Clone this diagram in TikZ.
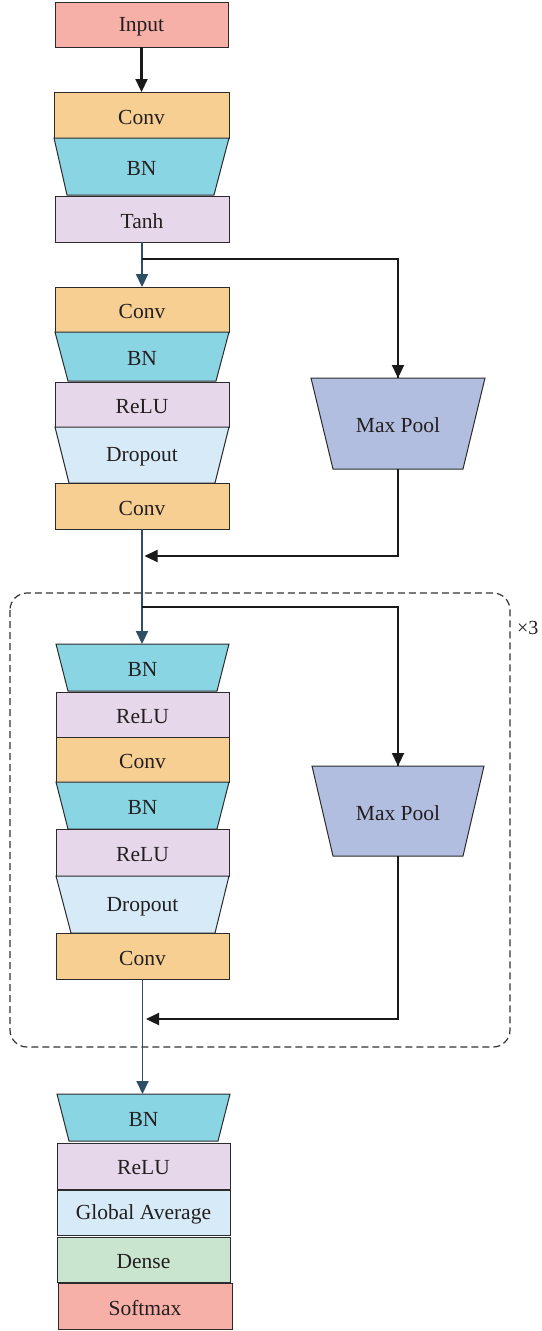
\documentclass[tikz,border=0pt]{standalone}
\usepackage{fontspec}
\setmainfont{Liberation Serif}
\usetikzlibrary{arrows.meta,calc}
\definecolor{cInput}{HTML}{F7B0A8}
\definecolor{cConv}{HTML}{F7CF93}
\definecolor{cBN}{HTML}{8AD5E3}
\definecolor{cAct}{HTML}{E6D8EA}
\definecolor{cDrop}{HTML}{D6EAF7}
\definecolor{cDense}{HTML}{C9E4CF}
\definecolor{cPool}{HTML}{B2BEE0}
\definecolor{cBorder}{HTML}{2B2B2B}
\definecolor{cBlue}{HTML}{2E4E66}
\definecolor{cText}{HTML}{231F20}
\definecolor{cArrow}{HTML}{1A1A1A}
% rectangle layer: name, x1, x2, y1, y2, fill, text
\newcommand\rectlayer[7]{%
  \node[lay, fill=#6, minimum width={(#3-#2)*1pt}, minimum height={(#5-#4)*1pt}]
    (#1) at ({(#2+#3)/2},{(#4+#5)/2}) {};
  \node[lbl] at ($(#1.center)+(0,2)$) {#7};}
% trapezoid layer: name, ytop, ybot, xt1, xt2, xb1, xb2, fill, text
\newcommand\traplayer[9]{%
  \filldraw[fill=#8, draw=cBorder, line width=1pt, line join=miter]
    (#4,#2) -- (#5,#2) -- (#7,#3) -- (#6,#3) -- cycle;
  \node[inner sep=0pt, outer sep=0pt, minimum width={(#5-#4)*1pt}, minimum height={(#3-#2)*1pt}]
    (#1) at ({(#4+#5)/2},{(#2+#3)/2}) {};
  \node[lbl] at ($(#1.center)+(0,2)$) {#9};}
\begin{document}
\begin{tikzpicture}[x=1pt,y=-1pt,
  lay/.style={draw=cBorder, line width=1pt, inner sep=0pt, outer sep=0pt},
  lbl/.style={inner sep=0pt, outer sep=0pt, text=cText, font=\fontsize{21.5}{25}\selectfont},
  blk/.style={draw=cArrow, line width=2.2pt, -{Triangle[length=13pt,width=12pt]}},
  blu/.style={draw=cBlue, line width=2.2pt, -{Triangle[length=13pt,width=12pt]}},
  blkline/.style={draw=cArrow, line width=2.2pt},
  repeatbox/.style={draw=black!80, line width=1.2pt, dash pattern=on 7pt off 4pt, rounded corners=17pt}]
\useasboundingbox (0,0) rectangle (541,1331);
\fill[white] (0,0) rectangle (541,1331);

% repeated block frame
\draw[repeatbox] (10,593) rectangle (510,1047);
\node[lbl, font=\fontsize{20}{23}\selectfont, anchor=west] (times) at (517,628) {×3};

% first block
\rectlayer{input}{55}{228}{2}{47}{cInput}{Input}
\rectlayer{conv1}{54}{229}{92}{138}{cConv}{Conv}
\traplayer{bn1}{138}{195}{54}{229}{67}{214}{cBN}{BN}
\rectlayer{tanh}{55}{229}{196}{242}{cAct}{Tanh}

% second block
\rectlayer{conv2}{55}{229}{287}{332}{cConv}{Conv}
\traplayer{bn2}{332}{381}{55}{229}{68}{216}{cBN}{BN}
\rectlayer{relu2}{55}{229}{382}{427}{cAct}{ReLU}
\traplayer{drop2}{427}{483}{55}{229}{69}{215}{cDrop}{Dropout}
\rectlayer{conv3}{55}{229}{483}{529}{cConv}{Conv}
\traplayer{pool1}{378}{469}{311}{485}{333}{463}{cPool}{Max Pool}

% repeated block
\traplayer{bn3}{644}{691}{56}{229}{68}{217}{cBN}{BN}
\rectlayer{relu3}{56}{229}{692}{737}{cAct}{ReLU}
\rectlayer{conv4}{56}{229}{737}{782}{cConv}{Conv}
\traplayer{bn4}{782}{829}{56}{229}{68}{217}{cBN}{BN}
\rectlayer{relu4}{56}{229}{829}{876}{cAct}{ReLU}
\traplayer{drop4}{876}{933}{56}{229}{71}{215}{cDrop}{Dropout}
\rectlayer{conv5}{56}{229}{933}{979}{cConv}{Conv}
\traplayer{pool2}{766}{856}{312}{484}{333}{463}{cPool}{Max Pool}

% head
\traplayer{bn5}{1094}{1141}{57}{230}{69}{218}{cBN}{BN}
\rectlayer{relu5}{57}{230}{1143}{1189}{cAct}{ReLU}
\rectlayer{gap}{57}{230}{1190}{1235}{cDrop}{Global Average}
\rectlayer{dense}{57}{230}{1237}{1282}{cDense}{Dense}
\rectlayer{soft}{58}{232}{1283}{1329}{cInput}{Softmax}

% connectors
\draw[blk] (input.south) -- (conv1.north);

\coordinate (b1) at ($(tanh.south)+(0,17)$);
\draw[blu] (tanh.south) -- (conv2.north);
\draw[blkline] (b1) -| (pool1.north);
\draw[blk] (b1 -| pool1.north) -- (pool1.north);

\coordinate (m1) at ($(conv3.south)+(0,27)$);
\coordinate (b2) at ($(conv3.south)+(0,78)$);
\draw[blu] (conv3.south) -- (conv3.south |- bn3.north);
\draw[blk] (pool1.south) |- ($(m1)+(2.5,0)$);
\draw[blkline] (b2) -| (pool2.north);
\draw[blk] (b2 -| pool2.north) -- (pool2.north);

\coordinate (m2) at ($(conv5.south)+(0,40)$);
\draw[blu, line width=1.8pt] (conv5.south) -- (conv5.south |- bn5.north);
\draw[blk] (pool2.south) |- ($(m2)+(3.5,0)$);
\end{tikzpicture}
\end{document}
